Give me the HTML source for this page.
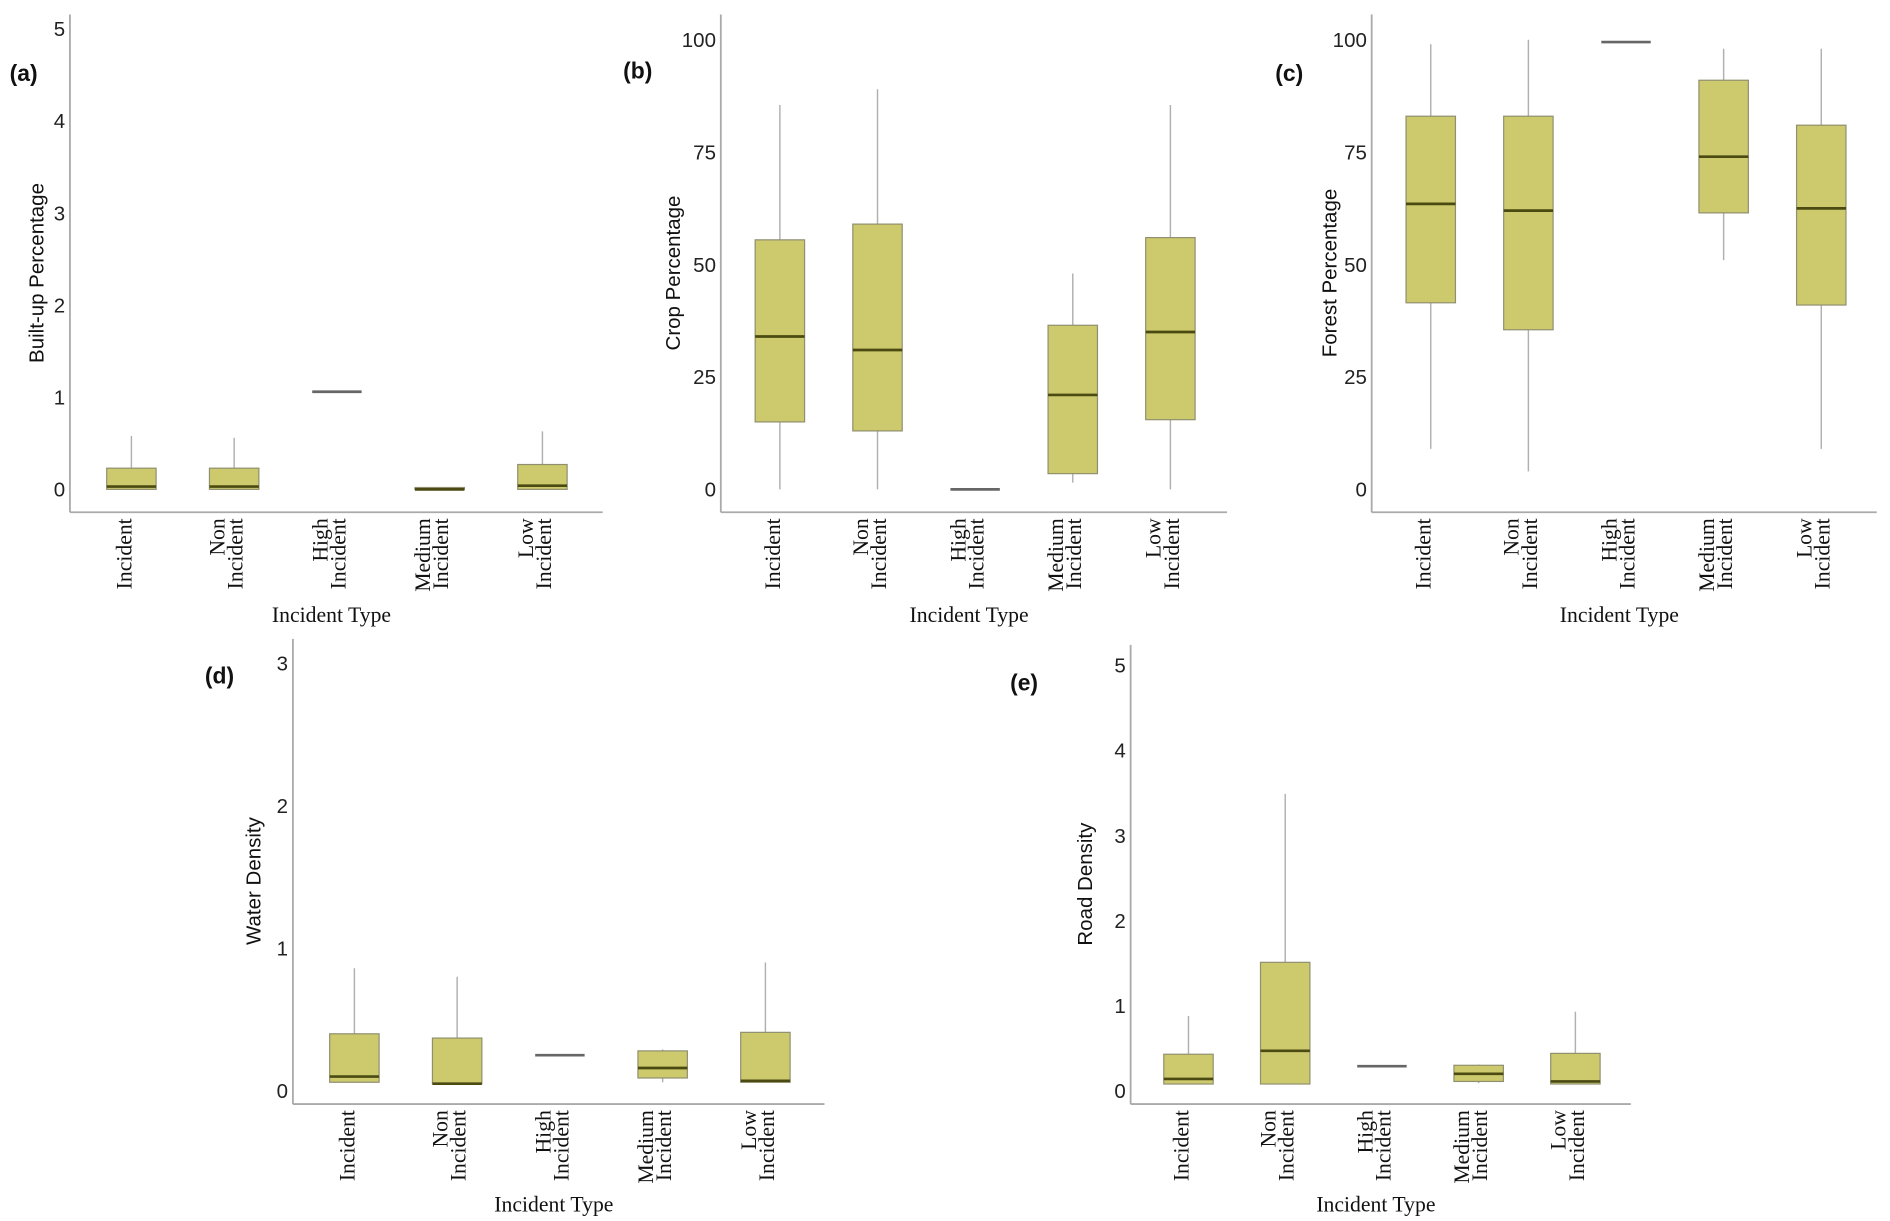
<!DOCTYPE html>
<html><head><meta charset="utf-8"><style>
html,body{margin:0;padding:0;background:#fff;}
svg{display:block;}
.tick{font-family:"Liberation Sans",sans-serif;font-size:17px;fill:#222;}
.ytitle{font-family:"Liberation Sans",sans-serif;font-size:17px;fill:#111;}
.xlab{font-family:"Liberation Serif",serif;font-size:18px;fill:#111;}
.xtitle{font-family:"Liberation Serif",serif;font-size:18px;fill:#111;}
.plabel{font-family:"Liberation Sans",sans-serif;font-size:19px;font-weight:bold;fill:#111;}
</style></head><body>
<svg id="fig" width="1890" height="1221" viewBox="0 0 1568 1013" xmlns="http://www.w3.org/2000/svg"></svg>
<script>
const categories = [["Incident"],["Non","Incident"],["High","Incident"],["Medium","Incident"],["Low","Incident"]];

const aLo=[0,0,1.06,0,0], aQ1=[0,0,1.06,0,0], aMed=[0.03,0.03,1.06,0.0,0.04], aQ3=[0.23,0.23,1.06,0.02,0.27], aHi=[0.58,0.56,1.06,0.02,0.63];
const aTicks=[0,1,2,3,4,5];
const bLo=[0,0,0,1.5,0], bQ1=[15,13,0,3.5,15.5], bMed=[34,31,0,21,35], bQ3=[55.5,59,0,36.5,56], bHi=[85.5,89,0,48,85.5];
const bTicks=[0,25,50,75,100];
const cLo=[9,4,99.5,51,9], cQ1=[41.5,35.5,99.5,61.5,41], cMed=[63.5,62,99.5,74,62.5], cQ3=[83,83,99.5,91,81], cHi=[99,100,99.5,98,98];
const cTicks=[0,25,50,75,100];
const dLo=[0.06,0.05,0.25,0.06,0.06], dQ1=[0.06,0.05,0.25,0.09,0.06], dMed=[0.1,0.05,0.25,0.16,0.07], dQ3=[0.4,0.37,0.25,0.28,0.41], dHi=[0.86,0.8,0.25,0.29,0.9];
const dTicks=[0,1,2,3];
const eLo=[0.08,0.08,0.29,0.09,0.08], eQ1=[0.08,0.08,0.29,0.11,0.08], eMed=[0.14,0.47,0.29,0.2,0.11], eQ3=[0.43,1.51,0.29,0.3,0.44], eHi=[0.88,3.49,0.29,0.31,0.93];
const eTicks=[0,1,2,3,4,5];

const svg=document.getElementById('fig');
const NS='http://www.w3.org/2000/svg';
function mk(tag,attrs,parent){const el=document.createElementNS(NS,tag);for(const k in attrs)el.setAttribute(k,attrs[k]);parent.appendChild(el);return el;}

function panel(id,lab,title,ax,top,right,bot,y0,unit,first,step,ticks,lo,q1,med,q3,hi,labPos,titleY){
  const g=mk('g',{},svg);
  
  
  const y=v=>y0-v*unit;
  const x=i=>first+i*step;
  const yl=mk('line',{x1:ax,y1:top,x2:ax,y2:bot,stroke:'#aaa','stroke-width':1.5},g);
  
  
  const xl=mk('line',{x1:ax,y1:bot,x2:right,y2:bot,stroke:'#aaa','stroke-width':1.5},g);
  
  
  ticks.forEach(t=>{
    const tx=mk('text',{x:ax-4,y:y(t)+6,'text-anchor':'end',class:'tick'},g);
    tx.textContent=t;
    
    
  });
  categories.forEach((c,i)=>{
    const cx=x(i), w=41;
    const wh=mk('line',{x1:cx,y1:y(hi[i]),x2:cx,y2:y(lo[i]),stroke:'#b0b0b0','stroke-width':1.2},g);
    
    
    if(q3[i]>q1[i]){
      const r=mk('rect',{x:cx-w/2,y:y(q3[i]),width:w,height:y(q1[i])-y(q3[i]),fill:'#cdc96d',stroke:'#909070','stroke-width':1},g);
      
      
      const m=mk('line',{x1:cx-w/2,y1:y(med[i]),x2:cx+w/2,y2:y(med[i]),stroke:'#4a4a12','stroke-width':2.2},g);
      
      
    } else {
      const m=mk('line',{x1:cx-w/2,y1:y(med[i]),x2:cx+w/2,y2:y(med[i]),stroke:'#666','stroke-width':2.2},g);
      
      
    }
    const lx=cx-5;
    const offs=c.length===1?[5]:[-3,12];
    c.forEach((s,k)=>{
      const px=lx+offs[k], py=bot+5;
      const t=mk('text',{x:px,y:py,transform:`rotate(-90 ${px} ${py})`,'text-anchor':'end',class:'xlab'},g);
      t.textContent=s;
      
      
    });
  });
  const xt=mk('text',{x:(ax+right)/2-4,y:titleY,'text-anchor':'middle',class:'xtitle'},g);
  xt.textContent='Incident Type';
  
  
  const tx=labPos[2], ty=(top+bot)/2+8;
  const yt=mk('text',{x:tx,y:ty,transform:`rotate(-90 ${tx} ${ty})`,'text-anchor':'middle',class:'ytitle'},g);
  yt.textContent=title;
  
  
  const pl=mk('text',{x:labPos[0],y:labPos[1],class:'plabel'},g);
  pl.textContent=lab;
  
  
}
panel('a','(a)','Built-up Percentage',58,12,500,425,406,76.4,109,85.25,aTicks,aLo,aQ1,aMed,aQ3,aHi,[8,67,36],516);
panel('b','(b)','Crop Percentage',598,12,1018,425,406,3.73,647,81,bTicks,bLo,bQ1,bMed,bQ3,bHi,[517,65,564],516);
panel('c','(c)','Forest Percentage',1138,12,1557,425,406,3.73,1187,81,cTicks,cLo,cQ1,cMed,cQ3,cHi,[1058,67,1109],516);
panel('d','(d)','Water Density',243,530,684,916,905,118.3,294,85.25,dTicks,dLo,dQ1,dMed,dQ3,dHi,[170,567,216],1005);
panel('e','(e)','Road Density',938,535,1353,916,905,70.6,986,80.25,eTicks,eLo,eQ1,eMed,eQ3,eHi,[838,573,906],1005);
</script>
</body></html>
